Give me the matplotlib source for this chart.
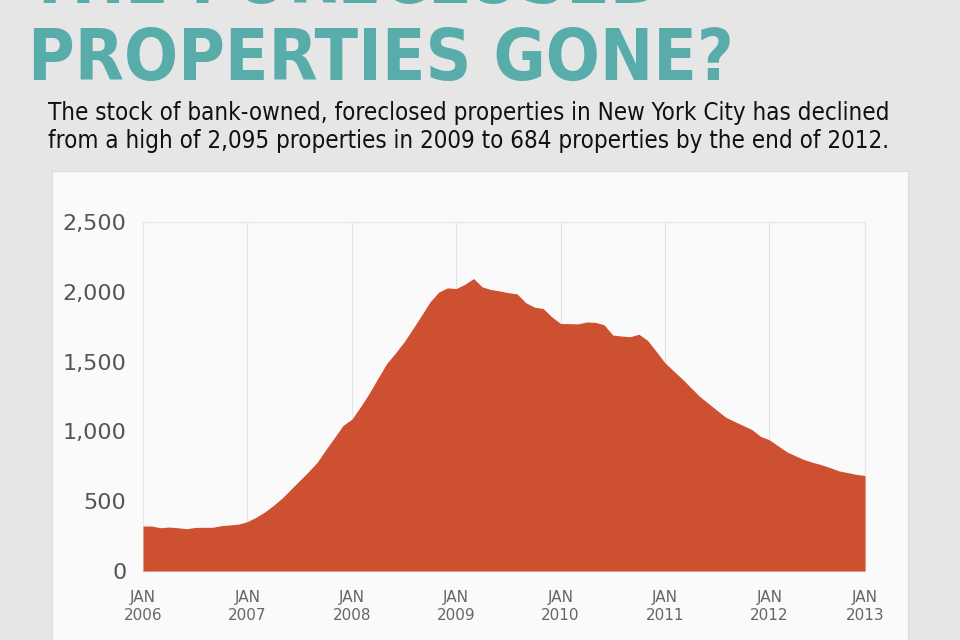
import matplotlib.pyplot as plt
from matplotlib.patches import Rectangle

# monthly stock of bank-owned properties, Jan 2006 .. Dec 2012
stock = [322, 322, 310, 315, 310, 303, 312, 313, 313, 325, 330, 336,
         354, 385, 423, 470, 523, 586, 648, 710, 777, 868, 955, 1043,
         1087, 1176, 1273, 1380, 1485, 1560, 1640, 1733, 1830, 1928, 1998, 2028,
         2023, 2054, 2095, 2035, 2016, 2006, 1994, 1985, 1922, 1890, 1880, 1820,
         1773, 1772, 1770, 1784, 1781, 1764, 1690, 1683, 1678, 1696, 1652, 1573,
         1491, 1433, 1375, 1312, 1250, 1200, 1150, 1101, 1071, 1042, 1013, 964,
         940, 897, 854, 825, 798, 778, 761, 740, 717, 705, 692, 684]
months = list(range(len(stock)))

tick_pos = [0, 12, 24, 36, 48, 60, 72, 83]
tick_labels = ["JAN\n2006", "JAN\n2007", "JAN\n2008", "JAN\n2009",
               "JAN\n2010", "JAN\n2011", "JAN\n2012", "JAN\n2013"]
y_ticks = [0, 500, 1000, 1500, 2000, 2500]

teal = '#58adab'
rust = '#cd5130'

fig = plt.figure(figsize=(9.6, 6.4), dpi=100)
fig.patch.set_facecolor('#e6e6e6')

# white panel behind the chart
fig.patches.append(Rectangle((52 / 960, 0), 856 / 960, 469 / 640,
                             transform=fig.transFigure, facecolor='#fafafa',
                             edgecolor='#dddddd', linewidth=0.8, zorder=-1))

# title, first line cut off by the top edge
fig.text(28 / 960, 1 - 3 / 640, "THE FORECLOSED", color=teal, fontsize=51,
         fontweight='bold', fontstretch='condensed', family='DejaVu Sans',
         ha='left', va='baseline')
fig.text(28 / 960, 1 - 80 / 640, "PROPERTIES GONE?", color=teal, fontsize=51,
         fontweight='bold', fontstretch='condensed', family='DejaVu Sans',
         ha='left', va='baseline')

fig.text(48 / 960, 1 - 120 / 640,
         "The stock of bank-owned, foreclosed properties in New York City has declined",
         color='#111111', fontsize=17.3, fontstretch='condensed', family='DejaVu Sans',
         ha='left', va='baseline')
fig.text(48 / 960, 1 - 148 / 640,
         "from a high of 2,095 properties in 2009 to 684 properties by the end of 2012.",
         color='#111111', fontsize=17.3, fontstretch='condensed', family='DejaVu Sans',
         ha='left', va='baseline')

ax = fig.add_axes([143 / 960, 69 / 640, 722 / 960, 349 / 640])
ax.set_zorder(2)
ax.set_facecolor('#fafafa')
ax.fill_between(months, stock, 0, color=rust, linewidth=0, zorder=3)
ax.set_xlim(0, 83)
ax.set_ylim(0, 2500)

ax.set_xticks(tick_pos)
ax.set_xticklabels(tick_labels, fontsize=11, color='#666666', linespacing=1.2)
ax.set_yticks(y_ticks)
ax.set_yticklabels(["{:,}".format(v) for v in y_ticks], fontsize=16, color='#555555')
ax.tick_params(length=0)
ax.tick_params(axis='x', pad=14)
ax.tick_params(axis='y', pad=12)

ax.grid(axis='x', color='#e3e3e3', linewidth=0.8, zorder=1)
for s in ax.spines.values():
    s.set_color('#e6e6e6')
    s.set_linewidth(0.8)

fig.savefig('out.png', dpi=100, facecolor=fig.get_facecolor())
